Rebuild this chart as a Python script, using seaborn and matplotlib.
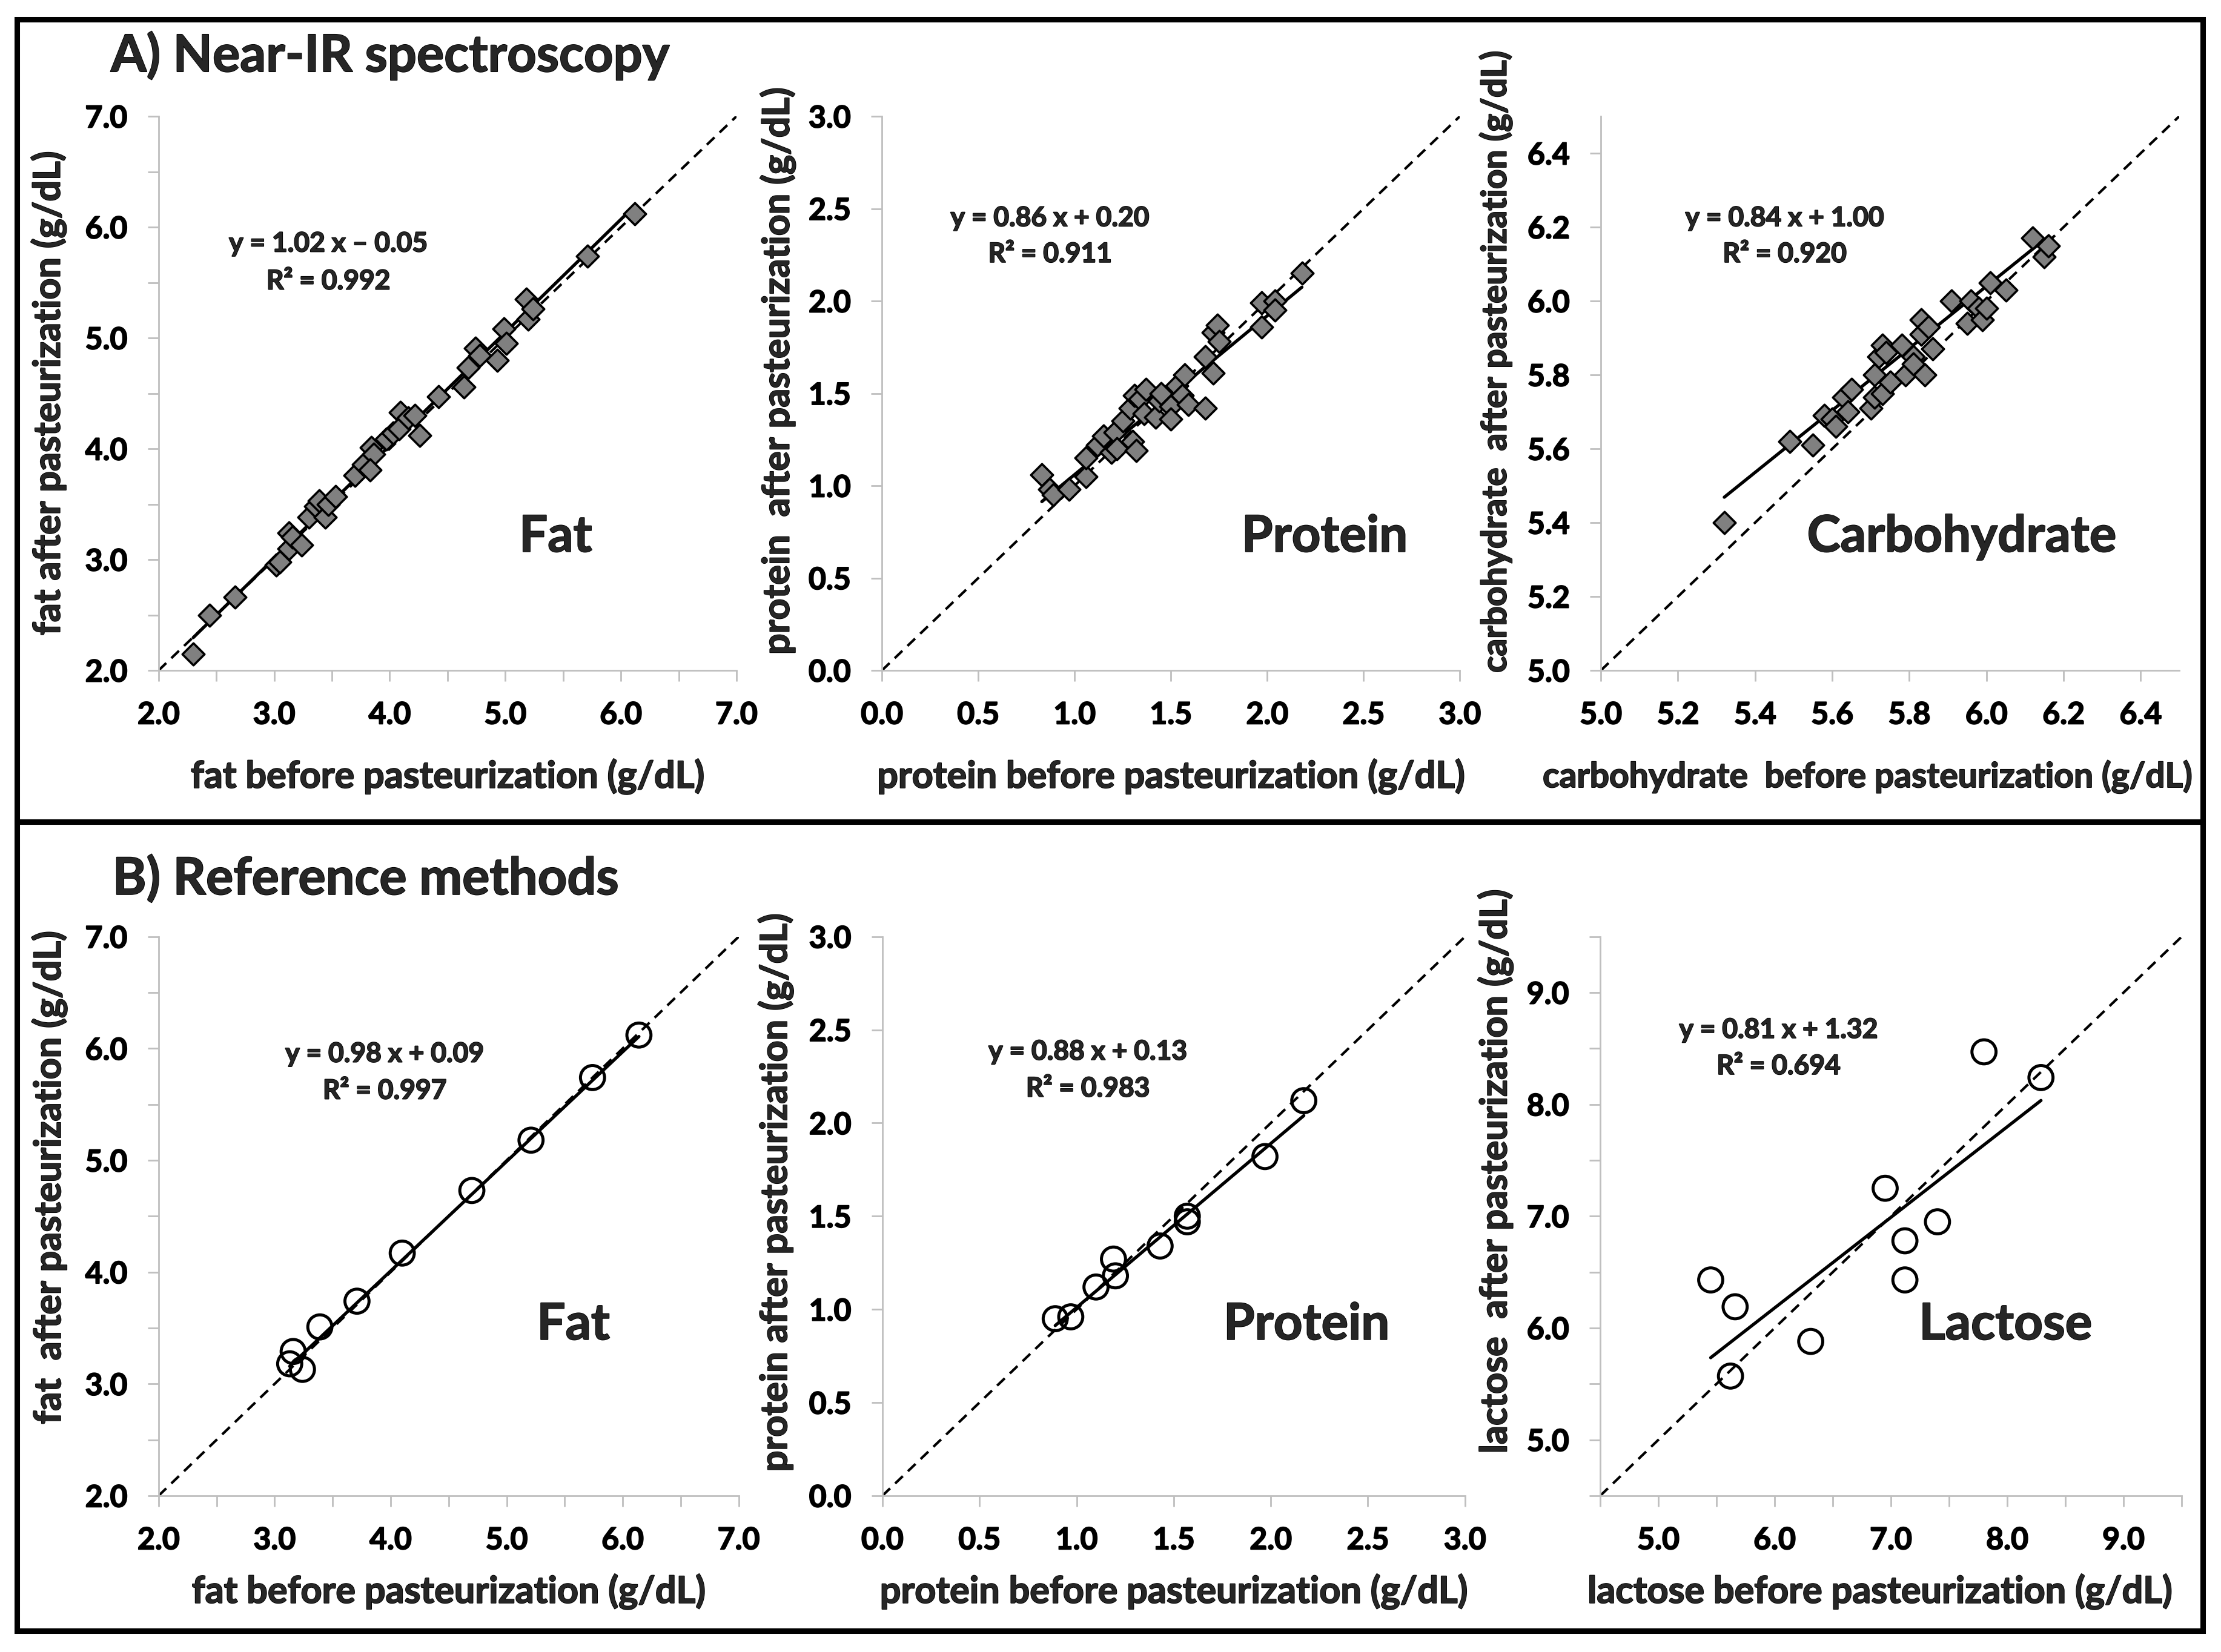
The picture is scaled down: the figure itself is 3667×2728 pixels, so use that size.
import numpy as np
import matplotlib
matplotlib.use("Agg")
import matplotlib.pyplot as plt
import matplotlib.patheffects as pe
import seaborn as sns
from matplotlib.patches import Rectangle
from matplotlib.ticker import MultipleLocator, FormatStrFormatter

# --- data (g/dL) ---
# A) Near-IR spectroscopy
nir_fat_before = [2.30, 2.44, 2.66, 3.02, 3.05, 3.13, 3.13, 3.16, 3.24, 3.30,
                  3.36, 3.39, 3.44, 3.47, 3.53, 3.70, 3.77, 3.84, 3.86, 3.83,
                  3.97, 4.03, 4.09, 4.08, 4.16, 4.26, 4.22, 4.42, 4.64, 4.68,
                  4.74, 4.78, 4.93, 4.99, 5.01, 5.18, 5.20, 5.24, 5.71, 6.12]
nir_fat_after = [2.15, 2.50, 2.66, 2.95, 2.98, 3.10, 3.24, 3.20, 3.13, 3.38,
                 3.48, 3.53, 3.38, 3.50, 3.57, 3.76, 3.86, 4.01, 3.95, 3.81,
                 4.09, 4.14, 4.33, 4.18, 4.28, 4.12, 4.30, 4.47, 4.56, 4.73,
                 4.91, 4.84, 4.80, 5.08, 4.95, 5.35, 5.17, 5.26, 5.74, 6.12]

nir_protein_before = [0.83, 0.87, 0.89, 0.97, 1.06, 1.06, 1.12, 1.15, 1.19, 1.21,
                      1.22, 1.25, 1.30, 1.32, 1.29, 1.31, 1.34, 1.37, 1.36, 1.42,
                      1.44, 1.45, 1.50, 1.50, 1.53, 1.56, 1.57, 1.59, 1.68, 1.72,
                      1.68, 1.72, 1.74, 1.75, 1.97, 1.97, 2.04, 2.04, 2.18]
nir_protein_after = [1.06, 0.98, 0.95, 0.98, 1.05, 1.15, 1.22, 1.27, 1.18, 1.29,
                     1.20, 1.35, 1.24, 1.19, 1.42, 1.49, 1.47, 1.52, 1.39, 1.37,
                     1.46, 1.50, 1.43, 1.36, 1.54, 1.49, 1.60, 1.44, 1.70, 1.61,
                     1.42, 1.83, 1.87, 1.78, 1.99, 1.86, 2.00, 1.95, 2.15]

nir_carb_before = [5.32, 5.49, 5.55, 5.58, 5.60, 5.61, 5.63, 5.64, 5.65, 5.70,
                   5.71, 5.71, 5.72, 5.73, 5.74, 5.73, 5.75, 5.78, 5.79, 5.81,
                   5.81, 5.83, 5.83, 5.84, 5.85, 5.86, 5.91, 5.95, 5.96, 5.98,
                   5.99, 6.00, 6.01, 6.05, 6.12, 6.15, 6.16]
nir_carb_after = [5.40, 5.62, 5.61, 5.69, 5.68, 5.66, 5.74, 5.70, 5.76, 5.71,
                  5.74, 5.80, 5.85, 5.88, 5.86, 5.75, 5.78, 5.88, 5.80, 5.85,
                  5.83, 5.95, 5.91, 5.80, 5.93, 5.87, 6.00, 5.94, 6.00, 5.98,
                  5.95, 5.98, 6.05, 6.03, 6.17, 6.12, 6.15]

# B) Reference methods
ref_fat_before = [3.13, 3.16, 3.24, 3.39, 3.71, 4.10, 4.70, 5.21, 5.74, 6.14]
ref_fat_after = [3.18, 3.29, 3.13, 3.51, 3.74, 4.17, 4.73, 5.18, 5.74, 6.12]

ref_protein_before = [0.89, 0.97, 1.10, 1.19, 1.20, 1.43, 1.57, 1.57, 1.97, 2.17]
ref_protein_after = [0.95, 0.96, 1.12, 1.27, 1.18, 1.34, 1.50, 1.47, 1.82, 2.12]

ref_lactose_before = [5.45, 5.66, 5.62, 6.31, 6.95, 7.12, 7.12, 7.40, 7.80, 8.29]
ref_lactose_after = [6.43, 6.19, 5.57, 5.88, 7.25, 6.78, 6.43, 6.95, 8.47, 8.24]

# regression lines as printed on the chart
fit_slopes = [1.02, 0.86, 0.84, 0.98, 0.88, 0.81]
fit_intercepts = [-0.05, 0.20, 1.00, 0.09, 0.13, 1.32]
fit_equations = ["y = 1.02 x \u2013 0.05", "y = 0.86 x + 0.20", "y = 0.84 x + 1.00",
                 "y = 0.98 x + 0.09", "y = 0.88 x + 0.13", "y = 0.81 x + 1.32"]
fit_r2 = ["R\u00b2 = 0.992", "R\u00b2 = 0.911", "R\u00b2 = 0.920",
          "R\u00b2 = 0.997", "R\u00b2 = 0.983", "R\u00b2 = 0.694"]

nutrient_names = ["Fat", "Protein", "Carbohydrate", "Fat", "Protein", "Lactose"]
x_labels = ["fat before pasteurization (g/dL)",
            "protein before pasteurization (g/dL)",
            "carbohydrate  before pasteurization (g/dL)",
            "fat before pasteurization (g/dL)",
            "protein before pasteurization (g/dL)",
            "lactose before pasteurization (g/dL)"]
y_labels = ["fat after pasteurization (g/dL)",
            "protein  after pasteurization (g/dL)",
            "carbohydrate  after pasteurization (g/dL)",
            "fat  after pasteurization (g/dL)",
            "protein after pasteurization (g/dL)",
            "lactose  after pasteurization (g/dL)"]

sns.set_theme(style="ticks")
plt.rcParams["font.family"] = ["Lato", "DejaVu Sans"]
plt.rcParams["font.weight"] = "bold"
plt.rcParams["axes.labelweight"] = "bold"

fig = plt.figure(figsize=(36.67, 27.28), dpi=100)
fig.patch.set_facecolor("white")

# slightly heavier strokes, like the Calibri Bold of the original
heavy = [pe.withStroke(linewidth=1.3, foreground="black")]

xs_all = [nir_fat_before, nir_protein_before, nir_carb_before,
          ref_fat_before, ref_protein_before, ref_lactose_before]
ys_all = [nir_fat_after, nir_protein_after, nir_carb_after,
          ref_fat_after, ref_protein_after, ref_lactose_after]

# layout / axis settings per panel
rects = [[0.0714, 0.5942, 0.2602, 0.3354], [0.3971, 0.5942, 0.2602, 0.3354],
         [0.7208, 0.5942, 0.2604, 0.3354], [0.0714, 0.0946, 0.2612, 0.3384],
         [0.3973, 0.0946, 0.2623, 0.3384], [0.7205, 0.0946, 0.2618, 0.3384]]
lims = [(2, 7), (0, 3), (5, 6.5), (2, 7), (0, 3), (4.5, 9.5)]
major = [1.0, 0.5, 0.2, 1.0, 0.5, 1.0]
minor = [0.5, None, None, 0.5, None, 0.5]
eq_pos = [(0.294, 0.770, 0.702), (0.291, 0.816, 0.751), (0.318, 0.816, 0.751),
          (0.390, 0.790, 0.724), (0.353, 0.794, 0.728), (0.307, 0.833, 0.768)]
name_pos = [(0.687, 0.240), (0.766, 0.240), (0.624, 0.240),
            (0.715, 0.305), (0.728, 0.305), (0.697, 0.305)]
xlab_pos = [(0.5, -0.192), (0.5, -0.192), (0.462, -0.192),
            (0.5, -0.172), (0.5, -0.172), (0.481, -0.172)]
ylab_pos = [(-0.190, 0.50), (-0.180, 0.54), (-0.182, 0.558),
            (-0.188, 0.569), (-0.183, 0.542), (-0.180, 0.58)]
label_sizes = [44, 44, 41, 44, 44, 44]

grey_axis = "#bfbfbf"

for i in range(6):
    ax = fig.add_axes(rects[i])
    lo, hi = lims[i]
    x = np.array(xs_all[i])
    y = np.array(ys_all[i])

    # 1:1 line and regression line
    ax.plot([lo, hi], [lo, hi], color="black", lw=3.0, ls=(0, (4.2, 2.8)), zorder=2)
    xf = np.array([x.min(), x.max()])
    ax.plot(xf, fit_slopes[i] * xf + fit_intercepts[i], color="black", lw=3.8, zorder=2)

    if i < 3:
        sns.scatterplot(x=x, y=y, ax=ax, marker="D", s=345, color="#808080",
                        edgecolor="black", linewidth=2.6, zorder=3)
    else:
        sns.scatterplot(x=x, y=y, ax=ax, marker="o", s=820, facecolor="none",
                        edgecolor="black", linewidth=3.6, zorder=3)
        ax.collections[-1].set_facecolor("none")

    ax.set_xlim(lo, hi)
    ax.set_ylim(lo, hi)
    for axis in (ax.xaxis, ax.yaxis):
        axis.set_major_locator(MultipleLocator(major[i]))
        axis.set_major_formatter(FormatStrFormatter("%.1f"))
        if minor[i]:
            axis.set_minor_locator(MultipleLocator(minor[i]))

    sns.despine(ax=ax)
    for side in ("left", "bottom"):
        ax.spines[side].set_color(grey_axis)
        ax.spines[side].set_linewidth(2)
    ax.tick_params(which="both", direction="out", length=13, width=2,
                   color=grey_axis, labelsize=36, pad=24, labelcolor="black")
    ax.set_facecolor("white")
    for lbl in ax.get_xticklabels() + ax.get_yticklabels():
        lbl.set_path_effects(heavy)

    ax.set_xlabel(x_labels[i], fontsize=label_sizes[i], va="center", path_effects=heavy)
    ax.set_ylabel(y_labels[i], fontsize=label_sizes[i], va="center", path_effects=heavy)
    ax.xaxis.set_label_coords(*xlab_pos[i])
    ax.yaxis.set_label_coords(*ylab_pos[i])

    ex, ey, ry = eq_pos[i]
    ax.text(ex, ey, fit_equations[i], transform=ax.transAxes, ha="center",
            va="center", fontsize=32, fontweight="bold", path_effects=heavy)
    ax.text(ex, ry, fit_r2[i], transform=ax.transAxes, ha="center",
            va="center", fontsize=32, fontweight="bold", path_effects=heavy)
    nx, ny = name_pos[i]
    ax.text(nx, ny, nutrient_names[i], transform=ax.transAxes, ha="center",
            va="center", fontsize=60, fontweight="bold", path_effects=heavy)

# panel frames and headings
fig.add_artist(Rectangle((0.0076, 0.5026), 0.9842, 0.4857, transform=fig.transFigure,
                         fill=False, lw=6.5, ec="black"))
fig.add_artist(Rectangle((0.0076, 0.0128), 0.9842, 0.4898, transform=fig.transFigure,
                         fill=False, lw=6.5, ec="black"))
fig.text(0.0499, 0.9567, "A) Near-IR spectroscopy", fontsize=61, fontweight="bold",
         ha="left", va="baseline", path_effects=heavy)
fig.text(0.0507, 0.4586, "B) Reference methods", fontsize=61, fontweight="bold",
         ha="left", va="baseline", path_effects=heavy)

fig.savefig("out.png", dpi=100, facecolor="white")
